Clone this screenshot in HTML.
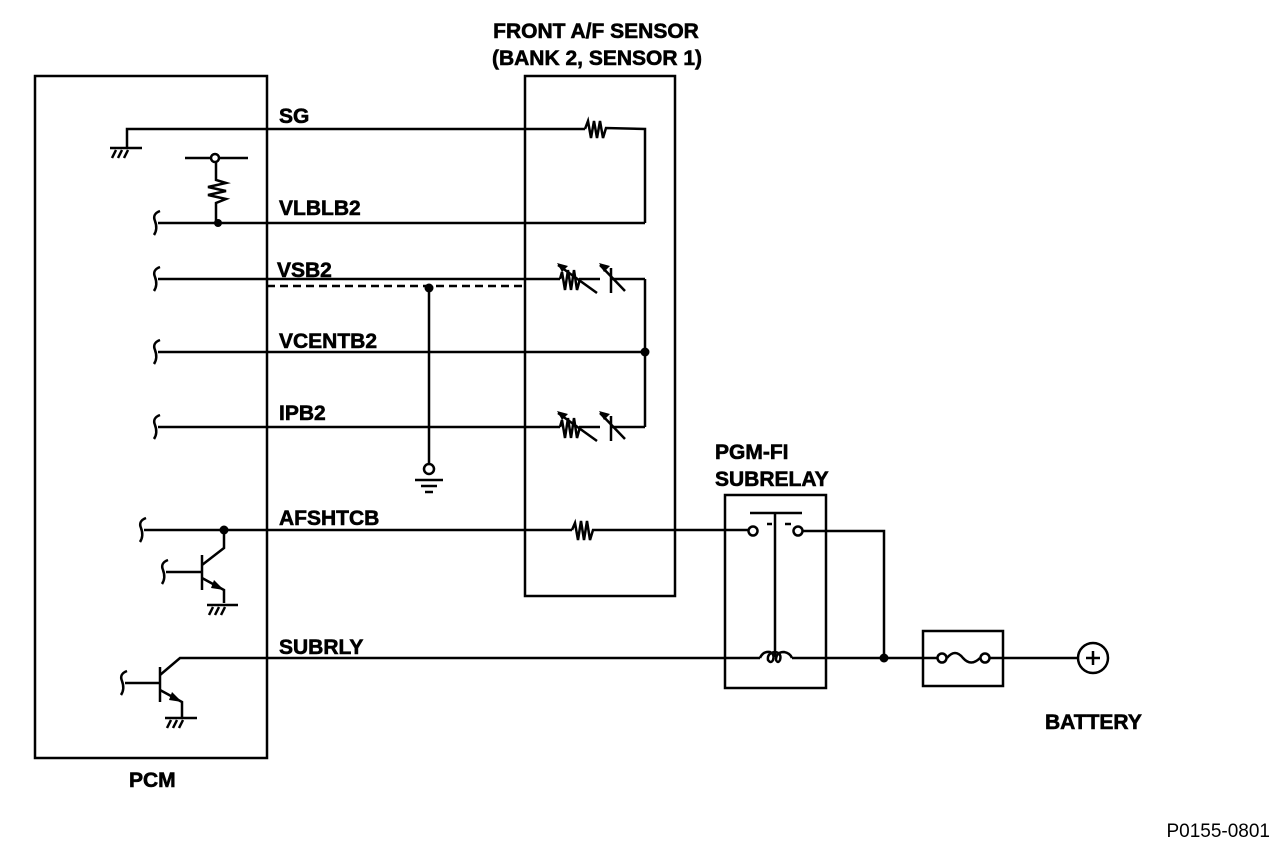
<!DOCTYPE html>
<html><head><meta charset="utf-8"><style>
html,body{margin:0;padding:0;background:#fff;}
svg{display:block;}
text{font-family:"Liberation Sans",Arial,sans-serif;font-weight:bold;font-size:21px;fill:#000;stroke:#000;stroke-width:0.6;}
</style></head><body>
<svg width="1280" height="848" viewBox="0 0 1280 848" xmlns="http://www.w3.org/2000/svg">
<g fill="none" stroke="#000" stroke-width="2.5">
<!-- boxes -->
<rect x="35" y="76" width="232" height="682"/>
<rect x="525" y="76" width="150" height="520"/>
<rect x="725" y="495" width="101" height="193"/>
<rect x="923" y="631" width="80" height="55"/>

<!-- SG -->
<polyline points="127,148 127,129 585,129"/>
<polyline points="585,129 588,121 591,138 594,121 597,138 600,121 603,138 606,128 645,129 645,223"/>
<line x1="110" y1="148" x2="142" y2="148"/>
<line x1="116" y1="150" x2="112" y2="158"/><line x1="122" y1="150" x2="118" y2="158"/><line x1="128" y1="150" x2="124" y2="158"/>
<!-- pull up -->
<line x1="185" y1="158" x2="210" y2="158"/><line x1="220" y1="158" x2="248" y2="158"/>
<circle cx="215" cy="158" r="4" fill="#fff"/>
<polyline points="216,162 216,180 226,183 208,187 226,191 208,195 226,199 216,203 216,223"/>
<!-- VLBLB2 -->
<line x1="158" y1="223" x2="645" y2="223"/>
<path d="M160,211 Q152,214 155,221 Q158,229 154,235"/>
<!-- VSB2 -->
<line x1="158" y1="279" x2="560" y2="279"/>
<path d="M160,267 Q152,270 155,277 Q158,285 154,291"/>
<polyline points="560,279 562,272 565,290 568,270 571,290 574,270 577,290 580,279 600,279"/>
<line x1="558" y1="265" x2="597" y2="293"/>
<line x1="611" y1="268" x2="611" y2="293"/>
<line x1="600" y1="265" x2="625" y2="291"/>
<line x1="611" y1="279" x2="645" y2="279"/>
<line x1="645" y1="279" x2="645" y2="427"/>
<line x1="267" y1="286" x2="525" y2="286" stroke-dasharray="8,5"/>
<!-- vertical to ground -->
<line x1="429" y1="288" x2="429" y2="464"/>
<circle cx="429" cy="469" r="5" fill="#fff"/>
<line x1="415" y1="480" x2="443" y2="480"/><line x1="421" y1="486" x2="437" y2="486"/><line x1="425" y1="492" x2="433" y2="492"/>
<!-- VCENTB2 -->
<line x1="158" y1="352" x2="645" y2="352"/>
<path d="M160,340 Q152,343 155,350 Q158,358 154,364"/>
<!-- IPB2 -->
<line x1="158" y1="427" x2="560" y2="427"/>
<path d="M160,415 Q152,418 155,425 Q158,433 154,439"/>
<polyline points="560,427 562,420 565,438 568,418 571,438 574,418 577,438 580,427 600,427"/>
<line x1="558" y1="413" x2="597" y2="441"/>
<line x1="611" y1="416" x2="611" y2="441"/>
<line x1="600" y1="413" x2="625" y2="439"/>
<line x1="611" y1="427" x2="645" y2="427"/>
<!-- AFSHTCB -->
<line x1="144" y1="530" x2="572" y2="530"/>
<path d="M146,518 Q138,521 141,528 Q144,536 140,542"/>
<polyline points="572,530 575,523 578,540 581,521 584,540 587,521 590,540 593,530 749,530"/>
<circle cx="753" cy="531" r="4.5" fill="#fff"/>
<circle cx="798" cy="531" r="4.5" fill="#fff"/>
<line x1="750" y1="513" x2="802" y2="513"/>
<line x1="775" y1="513" x2="775" y2="657"/>
<line x1="767" y1="524" x2="772" y2="524"/><line x1="785" y1="524" x2="791" y2="524"/>
<polyline points="803,531 884,531 884,658"/>
<!-- transistor 1 -->
<line x1="166" y1="572" x2="202" y2="572"/>
<path d="M168,560 Q160,563 163,570 Q166,578 162,584"/>
<line x1="202" y1="555" x2="202" y2="590"/>
<polyline points="202,565 224,548 224,530"/>
<polyline points="202,578 224,590 224,603"/>
<line x1="207" y1="605" x2="238" y2="605"/>
<line x1="213" y1="607" x2="209" y2="615"/><line x1="219" y1="607" x2="215" y2="615"/><line x1="225" y1="607" x2="221" y2="615"/>
<!-- SUBRLY -->
<polyline points="160,675 180,658 760,658"/>
<line x1="160" y1="667" x2="160" y2="702"/>
<line x1="125" y1="683" x2="160" y2="683"/>
<path d="M127,671 Q119,674 122,681 Q125,689 121,695"/>
<polyline points="160,690 182,702 182,717"/>
<line x1="165" y1="718" x2="197" y2="718"/>
<line x1="171" y1="720" x2="167" y2="728"/><line x1="177" y1="720" x2="173" y2="728"/><line x1="183" y1="720" x2="179" y2="728"/>
<path d="M760,658 Q763,651 770,652 Q775,654 773,660 Q771,664 768,660 Q767,653 775,652 Q782,653 780,660 Q778,664 776,660 Q776,652 784,652 Q790,653 792,658"/>
<line x1="792" y1="658" x2="937" y2="658"/>
<circle cx="942" cy="658" r="4.5" fill="#fff"/>
<path d="M947,658 Q955,648 963,658 Q971,667 980,658"/>
<circle cx="985" cy="658" r="4.5" fill="#fff"/>
<line x1="990" y1="658" x2="1078" y2="658"/>
<circle cx="1093" cy="658" r="15" fill="#fff"/>
<line x1="1086" y1="658" x2="1100" y2="658"/><line x1="1093" y1="651" x2="1093" y2="665"/>
</g>
<!-- arrowheads & dots -->
<g fill="#000" stroke="none">
<polygon points="557,263 568,266 562,272"/>
<polygon points="599,263 610,266 604,272"/>
<polygon points="557,411 568,414 562,420"/>
<polygon points="599,411 610,414 604,420"/>
<polygon points="224,590 214,580 211,588"/>
<polygon points="182,702 172,692 169,700"/>
<circle cx="218" cy="223" r="4"/>
<circle cx="429" cy="288" r="4.5"/>
<circle cx="645" cy="352" r="4.5"/>
<circle cx="224" cy="530" r="4.5"/>
<circle cx="884" cy="658" r="4.5"/>
</g>
<text x="596" y="38" text-anchor="middle">FRONT A/F SENSOR</text>
<text x="597" y="65" text-anchor="middle">(BANK 2, SENSOR 1)</text>
<text x="279" y="123">SG</text>
<text x="279" y="215">VLBLB2</text>
<text x="277" y="277">VSB2</text>
<text x="279" y="348">VCENTB2</text>
<text x="279" y="420">IPB2</text>
<text x="279" y="525">AFSHTCB</text>
<text x="279" y="654">SUBRLY</text>
<text x="715" y="459">PGM-FI</text>
<text x="715" y="486">SUBRELAY</text>
<text x="1045" y="729">BATTERY</text>
<text x="129" y="787">PCM</text>
<text x="1270" y="837" text-anchor="end" style="font-weight:normal;font-size:19px;stroke:none">P0155-0801</text>
</svg>
</body></html>
